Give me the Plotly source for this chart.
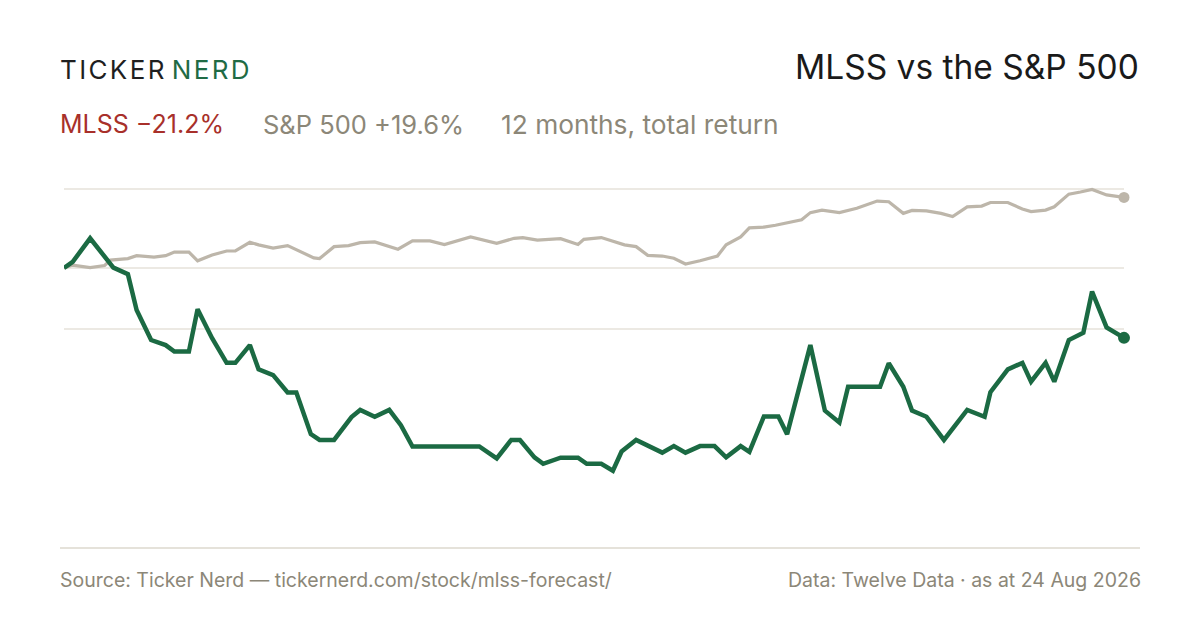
import pandas as pd
import plotly.graph_objects as go

# 12 month window, values are cumulative return in % from the start date
START = pd.Timestamp("2025-08-24")
END = pd.Timestamp("2026-08-24")

mlss_days = [0, 3, 9, 17, 22, 25, 30, 35, 38, 43, 46, 51, 56, 59, 64, 67, 72, 77, 80, 85,
             88, 93, 99, 102, 107, 112, 116, 120, 143, 149, 154, 157, 162, 165, 171, 177,
             180, 185, 189, 192, 197, 201, 206, 210, 214, 219, 224, 228, 233, 236, 241,
             246, 249, 257, 262, 267, 270, 281, 284, 289, 292, 297, 303, 311, 317, 319,
             325, 330, 333, 338, 341, 346, 351, 354, 359, 365]
mlss_ret = [0.0, 1.7, 8.2, 0.1, -1.7, -11.6, -19.9, -21.3, -23.1, -23.1, -11.4, -19.4,
            -26.2, -26.2, -21.3, -28.0, -29.6, -34.4, -34.4, -45.9, -47.5, -47.5, -41.2,
            -39.2, -41.1, -39.2, -43.4, -49.3, -49.3, -52.6, -47.5, -47.5, -52.3, -54.1,
            -52.4, -52.4, -54.1, -54.1, -56.0, -50.7, -47.5, -49.2, -51.0, -49.2, -51.0,
            -49.2, -49.2, -52.3, -49.2, -50.8, -41.0, -41.0, -45.9, -21.3, -39.4, -42.7,
            -32.8, -32.8, -26.3, -32.8, -39.4, -41.1, -47.5, -39.2, -41.1, -34.3, -28.0,
            -26.2, -31.4, -26.2, -31.4, -19.9, -17.9, -6.5, -16.4, -19.3]

spx_days = [0, 3, 9, 14, 16, 22, 25, 31, 35, 38, 43, 46, 51, 56, 59, 64, 67, 72, 77, 82,
            86, 88, 93, 98, 102, 107, 115, 120, 126, 131, 140, 149, 155, 158, 163, 171,
            177, 179, 185, 193, 197, 201, 206, 210, 214, 219, 225, 228, 233, 236, 241,
            245, 249, 254, 257, 261, 267, 273, 280, 284, 289, 292, 297, 302, 306, 311,
            316, 319, 325, 330, 333, 338, 341, 346, 350, 354, 359, 365]
spx_ret = [0.0, 0.8, 0.1, 0.7, 2.2, 2.6, 3.4, 3.0, 3.4, 4.4, 4.4, 2.0, 3.6, 4.7, 4.7,
           7.1, 6.4, 5.5, 6.2, 4.2, 2.8, 2.6, 5.9, 6.2, 7.0, 7.2, 5.2, 7.5, 7.5, 6.5, 8.6,
           6.8, 8.2, 8.4, 7.7, 8.1, 6.5, 7.9, 8.4, 6.4, 5.9, 3.5, 3.3, 2.7, 1.1, 2.0, 3.3,
           6.4, 8.6, 11.1, 11.3, 11.8, 12.5, 13.3, 15.3, 16.0, 15.3, 16.5, 18.5, 18.3,
           15.1, 15.9, 15.8, 15.1, 14.2, 16.9, 17.1, 18.1, 18.1, 16.3, 15.6, 16.0, 16.9,
           20.4, 21.0, 21.7, 20.2, 19.5]

grid_levels = [21.8, 0.0, -16.9]

mlss_total = "−21.2%"
spx_total = "+19.6%"

GREEN = "#1b6a43"
GREY_LINE = "#bdb6aa"
MUTED = "#8c8778"
RED = "#a8302a"
FONT = "Inter"

mlss_x = START + pd.to_timedelta(mlss_days, unit="D")
spx_x = START + pd.to_timedelta(spx_days, unit="D")

# plot box in pixels, used to place the header/footer text
L, R, T, B = 64, 1124, 170, 548


def px(x):
    return (x - L) / (R - L)


def py(y):
    return (B - y) / (B - T)


fig = go.Figure()

fig.add_trace(go.Scatter(
    x=spx_x, y=spx_ret, mode="lines",
    line=dict(color=GREY_LINE, width=3.2), cliponaxis=False,
    name="S&P 500"
))
fig.add_trace(go.Scatter(
    x=[spx_x[-1]], y=[spx_ret[-1]], mode="markers",
    marker=dict(color=GREY_LINE, size=11), cliponaxis=False
))
fig.add_trace(go.Scatter(
    x=mlss_x, y=mlss_ret, mode="lines",
    line=dict(color=GREEN, width=4.5), cliponaxis=False,
    name="MLSS"
))
fig.add_trace(go.Scatter(
    x=[mlss_x[-1]], y=[mlss_ret[-1]], mode="markers",
    marker=dict(color=GREEN, size=12), cliponaxis=False
))

hs = "\u200a"
logo_a = hs.join("TICKER")
logo_b = hs.join("NERD")

annotations = [
    dict(x=px(58), y=py(70), xanchor="left", yanchor="middle",
         text=logo_a + " <span style='color:#1f6b45'>" + logo_b + "</span>",
         font=dict(size=26, color="#1f1f1f", family=FONT)),
    dict(x=px(1141), y=py(67), xanchor="right", yanchor="middle",
         text="MLSS vs the S&P 500", font=dict(size=33.5, color="#1a1a1a", family=FONT)),
    dict(x=px(58), y=py(124), xanchor="left", yanchor="middle",
         text="MLSS " + mlss_total, font=dict(size=25, color=RED, family=FONT)),
    dict(x=px(261), y=py(124), xanchor="left", yanchor="middle",
         text="S&P 500 " + spx_total, font=dict(size=25.5, color=MUTED, family=FONT)),
    dict(x=px(499), y=py(124), xanchor="left", yanchor="middle",
         text="12 months, total return", font=dict(size=26.3, color=MUTED, family=FONT)),
    dict(x=px(58), y=py(580), xanchor="left", yanchor="middle",
         text="Source: Ticker Nerd — tickernerd.com/stock/mlss-forecast/",
         font=dict(size=19.5, color=MUTED, family=FONT)),
    dict(x=px(1143), y=py(580), xanchor="right", yanchor="middle",
         text="Data: Twelve Data · as at 24 Aug 2026",
         font=dict(size=19.5, color=MUTED, family=FONT)),
]
for a in annotations:
    a.update(xref="paper", yref="paper", showarrow=False)

fig.update_layout(
    width=1200, height=630,
    margin=dict(l=L, r=1200 - R, t=T, b=630 - B),
    paper_bgcolor="white", plot_bgcolor="white",
    showlegend=False,
    annotations=annotations,
    shapes=[dict(type="line", xref="paper", yref="paper",
                 x0=px(60), x1=px(1140), y0=0, y1=0,
                 line=dict(color="#dcd8ce", width=1.5))],
    xaxis=dict(range=[START, END], showgrid=False, zeroline=False,
               showticklabels=False, ticks="", showline=False),
    yaxis=dict(range=[-(B - 268) / 3.62, (268 - T) / 3.62],
               tickvals=grid_levels, showticklabels=False, ticks="",
               showgrid=True, gridcolor="#ece9e3", gridwidth=1.5,
               zeroline=False, showline=False),
)

# drop the default body margin so the figure sits at the page corner
fig.write_html("out.html", config={"displayModeBar": False},
               post_script="document.body.style.margin='0';")
